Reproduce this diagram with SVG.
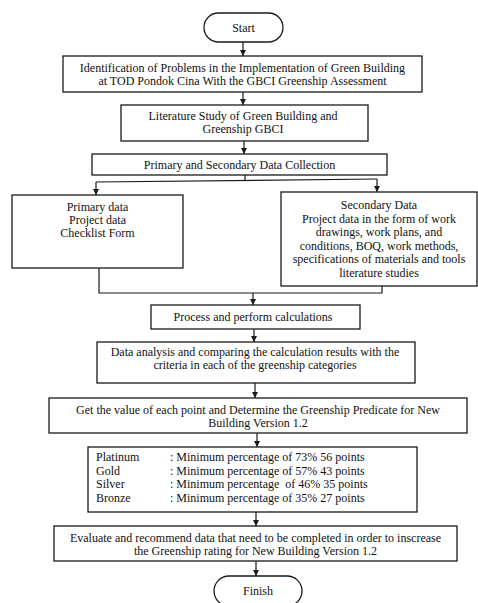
<svg xmlns="http://www.w3.org/2000/svg" width="478" height="603" viewBox="0 0 478 603">
<defs>
<marker id="ah" markerUnits="userSpaceOnUse" markerWidth="6" markerHeight="7" refX="6" refY="3" orient="auto">
<path d="M0,0 L6,3 L0,6 z" fill="#1a1a1a"/>
</marker>
<style>
.b{fill:#fff;stroke:#1a1a1a;stroke-width:1.3}
.c{fill:none;stroke:#1a1a1a;stroke-width:1.2}
.a{fill:none;stroke:#1a1a1a;stroke-width:1.2;marker-end:url(#ah)}
text{font-family:"Liberation Serif","Times New Roman",serif;font-size:12px;fill:#111}
.m{text-anchor:middle}
.p{white-space:pre}
</style>
</defs>
<rect width="478" height="603" fill="#fff"/>
<g id="connectors">
<line class="a" x1="243" y1="42" x2="243" y2="56"/>
<line class="a" x1="243" y1="92" x2="243" y2="105"/>
<line class="a" x1="244" y1="141" x2="244" y2="154"/>
<line class="c" x1="245" y1="175" x2="245" y2="181"/>
<line class="c" x1="96" y1="182" x2="377" y2="179"/>
<line class="a" x1="96" y1="182" x2="96" y2="195"/>
<line class="a" x1="377" y1="179" x2="377" y2="192"/>
<polyline class="c" points="99,268 99,293 382,293 382,286"/>
<line class="a" x1="253" y1="293" x2="253" y2="305"/>
<line class="a" x1="254" y1="329" x2="254" y2="342"/>
<line class="a" x1="255" y1="383" x2="255" y2="398"/>
<line class="a" x1="257" y1="433" x2="257" y2="447"/>
<line class="a" x1="256" y1="512" x2="256" y2="526"/>
<line class="a" x1="256" y1="561" x2="256" y2="576"/>
</g>
<g id="start">
<rect class="b" x="204" y="13" width="79" height="29" rx="14.5"/>
<text class="m" x="243.5" y="32">Start</text>
</g>
<g id="identification">
<rect class="b" x="63" y="56" width="359" height="36"/>
<text class="m" x="242.5" y="71.5">Identification of Problems in the Implementation of Green Building</text>
<text class="m" x="242.5" y="84.5">at TOD Pondok Cina With the GBCI Greenship Assessment</text>
</g>
<g id="literature">
<rect class="b" x="121" y="105" width="247" height="36"/>
<text class="m" x="243" y="120">Literature Study of Green Building and</text>
<text class="m" x="243" y="133">Greenship GBCI</text>
</g>
<g id="collection">
<rect class="b" x="92" y="154" width="295" height="21"/>
<text class="m" x="239.5" y="169">Primary and Secondary Data Collection</text>
</g>
<g id="primary">
<rect class="b" x="12" y="195" width="171" height="73"/>
<text class="m" x="97.5" y="211">Primary data</text>
<text class="m" x="97.5" y="224">Project data</text>
<text class="m" x="97.5" y="237">Checklist Form</text>
</g>
<g id="secondary">
<rect class="b" x="281" y="192" width="196" height="94"/>
<text class="m" x="379" y="209">Secondary Data</text>
<text class="m" x="379" y="222.5">Project data in the form of work</text>
<text class="m" x="379" y="236">drawings, work plans, and</text>
<text class="m" x="379" y="249.5">conditions, BOQ, work methods,</text>
<text class="m" x="379" y="263">specifications of materials and tools</text>
<text class="m" x="379" y="276.5">literature studies</text>
</g>
<g id="process">
<rect class="b" x="151" y="305" width="209" height="24"/>
<text class="m" x="253" y="321">Process and perform calculations</text>
</g>
<g id="analysis">
<rect class="b" x="97" y="342" width="318" height="41"/>
<text class="m" x="255" y="356">Data analysis and comparing the calculation results with the</text>
<text class="m" x="255" y="369">criteria in each of the greenship categories</text>
</g>
<g id="value">
<rect class="b" x="49" y="398" width="418" height="35"/>
<text class="m" x="258" y="413.5">Get the value of each point and Determine the Greenship Predicate for New</text>
<text class="m" x="258" y="426.5">Building Version 1.2</text>
</g>
<g id="ratings">
<rect class="b" x="88" y="447" width="329" height="65"/>
<text x="96" y="461">Platinum</text>
<text x="170" y="461">: Minimum percentage of 73% 56 points</text>
<text x="96" y="474.5">Gold</text>
<text x="170" y="474.5">: Minimum percentage of 57% 43 points</text>
<text x="96" y="488">Silver</text>
<text class="p" x="170" y="488">: Minimum percentage  of 46% 35 points</text>
<text x="96" y="502">Bronze</text>
<text x="170" y="502">: Minimum percentage of 35% 27 points</text>
</g>
<g id="evaluate">
<rect class="b" x="54" y="526" width="403" height="35"/>
<text class="m" x="255.5" y="542">Evaluate and recommend data that need to be completed in order to inscrease</text>
<text class="m" x="255.5" y="555">the Greenship rating for New Building Version 1.2</text>
</g>
<g id="finish">
<rect class="b" x="214" y="576" width="88" height="30" rx="15"/>
<text class="m" x="258" y="594.5">Finish</text>
</g>
</svg>
